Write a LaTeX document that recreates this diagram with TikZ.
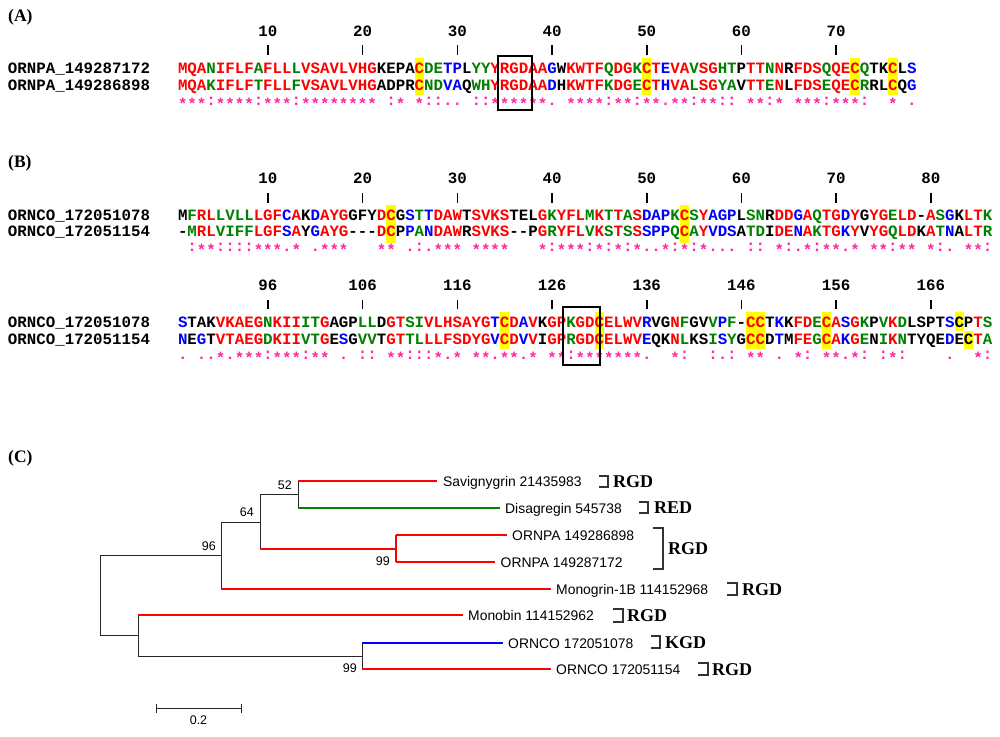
\documentclass[tikz,border=0pt]{standalone}
\usepackage{fontspec}
\setmainfont{Liberation Serif}
\setmonofont{Liberation Mono}
\newfontfamily\arialf{Liberation Sans}
\newfontfamily\timesf{Liberation Serif}
\definecolor{cr}{RGB}{255,0,0}
\definecolor{cg}{RGB}{0,128,0}
\definecolor{cb}{RGB}{0,0,255}
\definecolor{ck}{RGB}{0,0,0}
\definecolor{cpink}{RGB}{255,40,160}
\definecolor{hly}{RGB}{255,255,0}
\def\csA#1#2\relax#3#4\relax{\textcolor{c#3}{#1}\ifx\relax#2\relax\else\csA#2\relax#4\relax\fi}
\newcommand\colseq[2]{\csA#1\relax#2\relax}
\def\cnA#1#2\relax{\ifx-#1\hphantom{:}\else\ifx*#1\raisebox{-4pt}{*}\else#1\fi\fi\ifx\relax#2\relax\else\cnA#2\relax\fi}
\newcommand\consline[1]{\cnA#1\relax}
\newcommand\hlcol[3]{\fill[hly] ({182.7+(#1-1)*9.47-4.735},#2) rectangle ({182.7+(#1-1)*9.47+4.735},#3);}
\tikzset{
  seq/.style={anchor=base west, inner sep=0pt, outer sep=0pt, font=\fontsize{15.78}{18}\selectfont\ttfamily\bfseries},
  cons/.style={seq, text=cpink},
  rul/.style={anchor=base, inner sep=0pt, outer sep=0pt, font=\fontsize{15.78}{18}\selectfont\ttfamily\bfseries},
  tick/.style={line width=1.6pt},
  motifbox/.style={draw=black, line width=1.7pt},
  panel/.style={anchor=base west, inner sep=0pt, font=\timesf\bfseries\fontsize{17.5}{20}\selectfont},
  leaf/.style={anchor=base west, inner sep=0pt, font=\arialf\fontsize{13.9}{16}\selectfont},
  boot/.style={anchor=base east, inner sep=0pt, font=\arialf\fontsize{12.5}{15}\selectfont},
  motif/.style={anchor=base west, inner sep=0pt, font=\timesf\bfseries\fontsize{18}{20}\selectfont},
  blk/.style={line width=1pt, black!85},
  redb/.style={line width=2.6pt, cr},
  greenb/.style={line width=2.6pt, cg},
  blueb/.style={line width=2.6pt, cb},
  brk/.style={line width=1.2pt, black!80},
}
\begin{document}
\begin{tikzpicture}[x=1pt,y=-1pt]
\fill[white] (0,0) rectangle (1000,736);
\useasboundingbox (0,0) rectangle (1000,736);

% ---------------- Panel A
\node[panel] (pA) at (8,21.7) {(A)};
\foreach \n in {10,20,...,70}{
  \node[rul] (rA\n) at ({182.7+(\n-1)*9.47},36.7) {\n};
  \draw[tick] ({182.7+(\n-1)*9.47},45) -- ({182.7+(\n-1)*9.47},55);
}
\foreach \c in {26,50,72,76}{\hlcol{\c}{58}{95}}
\node[seq] (nA1) at (8,73.3) {ORNPA\_149287172};
\node[seq] (nA2) at (8,90) {ORNPA\_149286898};
\node[seq] (sA1) at (178,73.3) {\colseq{MQANIFLFAF LLLVSAVLVH GKEPACDETP LYYYRGDAAG WKWTFQDGKC TEVAVSGHTP TTNNRFDSQQ ECQTKCLS}{rrrgrrrrgr rrgrrrrrrr rkkkkrggbb kggrrrrrrb krrrrgrrgr rbrrgrrggk rrgrkrrrgr rrgkkrkb}};
\node[seq] (sA2) at (178,90) {\colseq{MQAKIFLFTF LLFVSAVLVH GADPRCNDVA QWHYRGDAAD HKWTFKDGEC THVALSGYAV TTENLFDSEQ ECRRLCQG}{rrrgrrrrgr rrgrrrrrrr rkkkkrggbb kggrrrrrrb krrrrgrrgr rbrrgrrggk rrgrkrrrgr rrgkkrkb}};
\node[cons] (cA) at (178,105) {\consline{***:****:* **:******* *-:*-*::.. -::******. -****:**:* *.**:**::- **:*-***:* **:--*-.}};
\draw[motifbox] (498.3,56) rectangle (531.7,110);

% ---------------- Panel B, block 1
\node[panel] (pB) at (8,167.5) {(B)};
\foreach \n in {10,20,...,80}{
  \node[rul] (rB\n) at ({182.7+(\n-1)*9.47},183.3) {\n};
  \draw[tick] ({182.7+(\n-1)*9.47},193) -- ({182.7+(\n-1)*9.47},203);
}
\foreach \c in {23,54}{\hlcol{\c}{205}{243}}
\node[seq] (nB1) at (8,220) {ORNCO\_172051078};
\node[seq] (nB2) at (8,236.7) {ORNCO\_172051154};
\node[seq] (sB1) at (178,220) {\colseq{MFRLLVLLLG FCAKDAYGGF YDCGSTTDAW TSVKSTELGK YFLMKTTASD APKCSYAGPL SNRDDGAQTG DYGYGELD-A SGKLTK}{kgrrggggrr rbrkbrrrkk krrkbgbrrr krrrrkkkrg rrrgrgrgrb bbgrgrbbbk ggkrrbrgrr brkrrgrrkr gbkrrg}};
\node[seq] (sB2) at (178,236.7) {\colseq{-MRLVIFFLG FSAYGAYG-- -DCPPANDAW RSVKS--PGR YFLVKSTSSS PPQCAYVDSA TDIDENAKTG KYVYGQLDKA TNALTR}{kgrrggggrr rbrkbrrrkk krrkbgbrrr krrrrkkkrg rrrgrgrgrb bbgrgrbbbk ggkrrbrgrr brkrrgrrkr gbkrrg}};
\node[cons] (cB) at (178,251.7) {\consline{-:**::::** *.*-.***-- -**-.:.*** -****---*: ***:*:*:*. .*:*:*...- ::-*:.*:** .*-**:**-* :.-**:}};

% ---------------- Panel B, block 2
\foreach \n/\lab in {10/96,20/106,30/116,40/126,50/136,60/146,70/156,80/166}{
  \node[rul] (rC\lab) at ({182.7+(\n-1)*9.47},290.7) {\lab};
  \draw[tick] ({182.7+(\n-1)*9.47},300) -- ({182.7+(\n-1)*9.47},309);
}
\foreach \c in {35,45,61,62,69}{\hlcol{\c}{312}{349}}
\hlcol{83}{312}{331}
\hlcol{84}{331}{349}
\node[seq] (nC1) at (8,327) {ORNCO\_172051078};
\node[seq] (nC2) at (8,344) {ORNCO\_172051154};
\node[seq] (sC1) at (178,327) {\colseq{STAKVKAEGN KIIITGAGPL LDGTSIVLHS AYGTCDAVKG PKGDCELWVR VGNFGVVPF- CCTKKFDECA SGKPVKDLSP TSCPTS}{bkkkrrrrrg rrrggrkkkg gkrrggrrrr rrrbrrbrkr rgrrrrrrrb kkrgkkgbgk rrkbkrrgrr brgkgrgkkk kbkkrg}};
\node[seq] (sC2) at (178,344) {\colseq{NEGTVTAEGD KIIVTGESGV VTGTTLLLFS DYGVCDVVIG PRGDCELWVE QKNLKSISYG CCDTMFEGCA KGENIKNTYQ EDECTA}{bkbkrrrrrg rrrggrkbkg gkrrggrrrr rrrbrrbrkr rgrrrrrrrb kkrgkkgbgk rrkbkrrgrr brgkgrgkkk kbkkrg}};
\node[cons] (cC) at (178,359) {\consline{.-..*.***: ***:**-.-: :-**:::*.* -**.**.*-* *:*******. --*:--:.:- **-.-*:-** .*:-:*:--- -.--*:}};
\draw[motifbox] (562.7,307) rectangle (600,365);

% ---------------- Panel C
\node[panel] (pC) at (8,462) {(C)};
\coordinate (rootT) at (100,555);
\coordinate (rootB) at (100,635);
\coordinate (a96T) at (221,522);
\coordinate (a96M) at (221,555);
\coordinate (a96B) at (221,589);
\coordinate (a64T) at (260,494);
\coordinate (a64M) at (260,522);
\coordinate (a64B) at (260,549);
\coordinate (a52T) at (298,481);
\coordinate (a52M) at (298,494);
\coordinate (a52B) at (298,508);
\coordinate (a99T) at (396,535);
\coordinate (a99M) at (396,549);
\coordinate (a99B) at (396,562);
\coordinate (bLT) at (138,615);
\coordinate (bLM) at (138,635);
\coordinate (bLB) at (138,656);
\coordinate (b99T) at (362,643);
\coordinate (b99M) at (362,656);
\coordinate (b99B) at (362,669);
\coordinate (tSav) at (437,481);
\coordinate (tDis) at (500,508);
\coordinate (tP898) at (507,535);
\coordinate (tP172) at (495,562);
\coordinate (tMg) at (551,589);
\coordinate (tMb) at (463,615);
\coordinate (tC078) at (503,643);
\coordinate (tC154) at (551,669);

\draw[blk] (rootT) -- (rootB);
\draw[blk] (rootT) -- (a96M);
\draw[blk] (a96T) -- (a96B);
\draw[blk] (a96T) -- (a64M);
\draw[blk] (a64T) -- (a64B);
\draw[blk] (a64T) -- (a52M);
\draw[blk] (a52T) -- (a52B);
\draw[redb] (a52T) -- (tSav);
\draw[greenb] (a52B) -- (tDis);
\draw[redb] (a64B) -- (a99M);
\draw[redb] (a99T) -- (a99B);
\draw[redb] (a99T) -- (tP898);
\draw[redb] (a99B) -- (tP172);
\draw[redb] (a96B) -- (tMg);
\draw[blk] (rootB) -- (bLM);
\draw[blk] (bLT) -- (bLB);
\draw[redb] (bLT) -- (tMb);
\draw[blk] (bLB) -- (b99M);
\draw[blk] (b99T) -- (b99B);
\draw[blueb] (b99T) -- (tC078);
\draw[redb] (b99B) -- (tC154);

\node[boot] (bs52) at (292,489.3) {52};
\node[boot] (bs64) at (254,516.7) {64};
\node[boot] (bs96) at (216,550.7) {96};
\node[boot] (bs99a) at (390,565) {99};
\node[boot] (bs99b) at (357,672) {99};

\node[leaf] (lSav) at (443,486) {Savignygrin 21435983};
\node[leaf] (lDis) at (505,513) {Disagregin 545738};
\node[leaf] (lP898) at (512,540) {ORNPA 149286898};
\node[leaf] (lP172) at (500.5,567) {ORNPA 149287172};
\node[leaf] (lMg) at (556,594) {Monogrin-1B 114152968};
\node[leaf] (lMb) at (468,620) {Monobin 114152962};
\node[leaf] (lC078) at (508,648) {ORNCO 172051078};
\node[leaf] (lC154) at (556,674) {ORNCO 172051154};

\draw[brk] (599,476) -- (608,476) -- (608,487) -- (599,487);
\node[motif] (mSav) at (613,487.5) {RGD};
\draw[brk] (639,502) -- (648,502) -- (648,513) -- (639,513);
\node[motif] (mDis) at (654,513.5) {RED};
\draw[brk] (653,528) -- (663,528) -- (663,569) -- (653,569);
\node[motif] (mP) at (668,554.5) {RGD};
\draw[brk] (727,583) -- (737,583) -- (737,595) -- (727,595);
\node[motif] (mMg) at (742,595) {RGD};
\draw[brk] (613,609) -- (623,609) -- (623,622) -- (613,622);
\node[motif] (mMb) at (627,621.5) {RGD};
\draw[brk] (651,636) -- (660,636) -- (660,648) -- (651,648);
\node[motif] (mC078) at (665,648) {KGD};
\draw[brk] (698,663) -- (708,663) -- (708,675) -- (698,675);
\node[motif] (mC154) at (712,675) {RGD};

% scale bar
\coordinate (sbL) at (156,708);
\coordinate (sbR) at (241,708);
\draw[blk] (sbL) -- (sbR);
\draw[blk] (156,703.5) -- (156,712.5);
\draw[blk] (241,703.5) -- (241,712.5);
\node[boot, anchor=base] (sbl) at (198.5,724) {0.2};
\end{tikzpicture}
\end{document}
